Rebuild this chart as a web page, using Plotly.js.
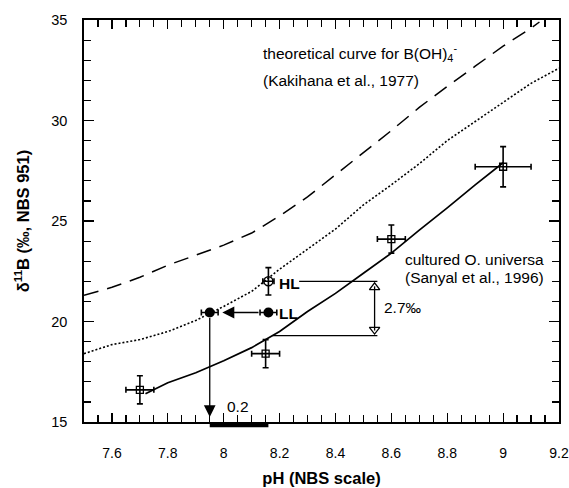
<!DOCTYPE html>
<html><head><meta charset="utf-8">
<script src="https://cdn.plot.ly/plotly-3.0.1.min.js"></script>
<style>html,body{margin:0;padding:0;background:#fff}</style>
</head><body><div id="chart" style="width:569px;height:488px"></div>
<script>
// Theoretical curve for B(OH)4- (Kakihana et al., 1977) — dashed
const theoPH   = [7.5,7.6,7.7,7.8,7.9,8.0,8.1,8.2,8.3,8.4,8.5,8.6,8.7,8.8,8.9,9.0,9.1,9.13];
const theoD11B = [21.3,21.7,22.2,22.8,23.3,23.8,24.4,25.25,26.2,27.3,28.4,29.5,30.65,31.7,32.7,33.7,34.6,34.9];
// Dotted curve
const dotPH   = [7.5,7.6,7.7,7.75,7.8,7.9,8.0,8.1,8.2,8.3,8.4,8.5,8.6,8.7,8.8,8.9,9.0,9.1,9.2];
const dotD11B = [18.4,18.85,19.1,19.3,19.5,20.05,20.75,21.5,22.6,23.6,24.6,25.8,26.8,27.85,29.0,29.95,30.9,31.85,32.6];
// Cultured O. universa fit (Sanyal et al., 1996) — solid
const fitPH   = [7.72,7.8,7.9,8.0,8.1,8.2,8.3,8.4,8.5,8.6,8.7,8.8,8.9,9.0];
const fitD11B = [16.4,16.95,17.45,18.05,18.7,19.5,20.5,21.4,22.4,23.4,24.55,25.65,26.8,27.9];
// Culture data points
const culPH    = [7.7,8.15,8.6,9.0];
const culD11B  = [16.6,18.4,24.1,27.7];
const culErrPH = [0.05,0.05,0.05,0.1];
const culErrD  = [0.7,0.7,0.7,1.0];
// HL / LL
const hlPH = [8.16], hlD = [22.0], hlErrPH = [0.02], hlErrD = [0.68];
const llPH = [8.16], llD = [20.45], llErrPH = [0.03], llErrD = [0.15];
const llShiftPH = [7.95];
const offsetDelta = 2.7;          // ‰ offset
// x tick values and labels
const xTickVals = [7.6,7.8,8.0,8.2,8.4,8.6,8.8,9.0,9.2];
const xTickText = ['7.6','7.8','8','8.2','8.4','8.6','8.8','9','9.2'];
const labels = {theo1:'theoretical curve for B(OH)<sub>4</sub><sup>-</sup>', theo2:'(Kakihana et al., 1977)',
  cul1:'cultured O. universa', cul2:'(Sanyal et al., 1996)', hl:'<b>HL</b>', ll:'<b>LL</b>',
  delta:'2.7‰', dph:'0.2'};

const F = 'Liberation Sans, Arial, Helvetica, sans-serif';
const K = '#000';
const lowD = hlD[0] - offsetDelta;

const traces = [
  {x: theoPH, y: theoD11B, mode:'lines', line:{color:K, width:1.5, dash:'15px,9px'}},
  {x: dotPH, y: dotD11B, mode:'lines', line:{color:K, width:1.6, dash:'2px,2px'}},
  {x: fitPH, y: fitD11B, mode:'lines', line:{color:K, width:1.7}},
  // reference horizontal lines
  {x:[8.27, 8.55], y:[hlD[0], hlD[0]], mode:'lines', line:{color:K, width:1.3}},
  {x:[8.175, 8.55], y:[lowD, lowD], mode:'lines', line:{color:K, width:1.3}},
  // double arrow
  {x:[8.54, 8.54], y:[lowD+0.25, hlD[0]-0.25], mode:'lines', line:{color:K, width:1.3}},
  {x:[8.54, 8.54], y:[lowD+0.3, hlD[0]-0.3], mode:'markers', cliponaxis:false,
   marker:{symbol:['triangle-down-open','triangle-up-open'], size:9, color:K, line:{width:1.3, color:K}}},
  // culture points
  {x: culPH, y: culD11B, mode:'markers',
   marker:{symbol:'square-open', size:7, color:K, line:{width:1.3, color:K}},
   error_x:{type:'data', array:culErrPH, color:K, thickness:1.6, width:3},
   error_y:{type:'data', array:culErrD, color:K, thickness:1.6, width:3}},
  // HL
  {x: hlPH, y: hlD, mode:'markers',
   marker:{symbol:'circle-open', size:9, color:K, line:{width:1.5, color:K}},
   error_x:{type:'data', array:hlErrPH, color:K, thickness:1.6, width:3},
   error_y:{type:'data', array:hlErrD, color:K, thickness:1.6, width:3}},
  // LL and shifted LL
  {x: [llPH[0], llShiftPH[0]], y: [llD[0], llD[0]], mode:'markers',
   marker:{symbol:'circle', size:10, color:K},
   error_x:{type:'data', array:[llErrPH[0], llErrPH[0]], color:K, thickness:1.6, width:3},
   error_y:{type:'data', array:[llErrD[0], llErrD[0]], color:K, thickness:1.6, width:3}}
];

const ann = (x, y, text, opts) => Object.assign({x, y, xref:'x', yref:'y', text, showarrow:false,
  xanchor:'left', yanchor:'middle', font:{family:F, size:15.5, color:K}}, opts||{});

const layout = {
  width:569, height:488,
  margin:{l:84, r:10, t:20, b:66},
  paper_bgcolor:'#fff', plot_bgcolor:'#fff',
  showlegend:false, hovermode:false,
  font:{family:F, size:14, color:K},
  xaxis:{range:[7.5, 9.2], tickmode:'array', tickvals:xTickVals, ticktext:xTickText,
    ticks:'inside', ticklen:9, tickwidth:1.2, tickcolor:K,
    minor:{tickmode:'linear', tick0:7.5, dtick:0.05, ticks:'inside', ticklen:7, tickwidth:1.2, tickcolor:K},
    showline:true, linewidth:1.7, linecolor:K, mirror:'ticks', showgrid:false, zeroline:false,
    ticklabelstandoff:17, tickfont:{family:F, size:14, color:K},
    title:{text:'<b>pH (NBS scale)</b>', font:{family:F, size:16.5, color:K}, standoff:13}},
  yaxis:{range:[15, 35], tickmode:'linear', tick0:15, dtick:5,
    ticks:'inside', ticklen:10, tickwidth:1.2, tickcolor:K,
    minor:{tickmode:'linear', tick0:15, dtick:1, ticks:'inside', ticklen:7, tickwidth:1.2, tickcolor:K},
    showline:true, linewidth:1.7, linecolor:K, mirror:'ticks', showgrid:false, zeroline:false,
    ticklabelstandoff:12, tickfont:{family:F, size:14.5, color:K},
    title:{text:'<b>δ<sup>11</sup>B (‰, NBS 951)</b>', font:{family:F, size:16.5, color:K}, standoff:17}},
  shapes:[
    {type:'rect', xref:'x', yref:'paper', x0:llShiftPH[0], x1:llPH[0], y0:-0.013, y1:0,
     fillcolor:K, line:{width:0}}
  ],
  annotations:[
    ann(8.135, 33.37, labels.theo1),
    ann(8.135, 31.99, labels.theo2),
    ann(8.64, 23.08, labels.cul1),
    ann(8.64, 22.19, labels.cul2),
    ann(8.19, 21.9, labels.hl),
    ann(8.19, 20.42, labels.ll),
    ann(8.565, 20.68, labels.delta),
    ann(8.05, 15.75, labels.dph, {xanchor:'center'}),
    // arrow LL -> shifted
    {x: llShiftPH[0]+0.045, y: llD[0], ax: llPH[0]-0.03, ay: llD[0], xref:'x', yref:'y', axref:'x', ayref:'y',
     text:'', showarrow:true, arrowhead:2, arrowsize:1.6, arrowwidth:1.5, arrowcolor:K, standoff:0, startstandoff:0},
    // vertical arrow shifted -> pH axis
    {x: llShiftPH[0], y: 15.25, ax: llShiftPH[0], ay: llD[0]-0.2, xref:'x', yref:'y', axref:'x', ayref:'y',
     text:'', showarrow:true, arrowhead:2, arrowsize:1.8, arrowwidth:1.3, arrowcolor:K, standoff:0, startstandoff:0}
  ]
};

Plotly.newPlot('chart', traces, layout, {staticPlot:true, displayModeBar:false});
</script></body></html>
